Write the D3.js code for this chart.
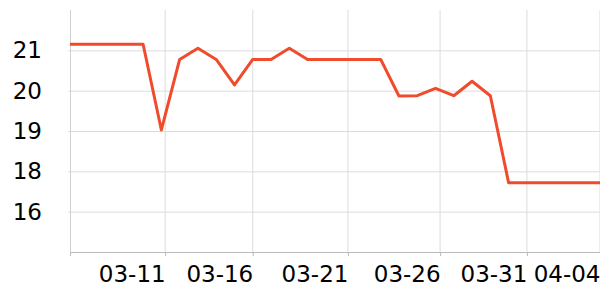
<!DOCTYPE html>
<html>
<head>
<meta charset="utf-8">
<script src="https://cdn.jsdelivr.net/npm/d3@7"></script>
<style>
	html, body { margin: 0; padding: 0; background: #fff; }
	svg { display: block; font-family: "DejaVu Sans", sans-serif; }
</style>
</head>
<body>
<svg id="chart" width="600" height="300"></svg>
<script>
// daily readings, 03-06 .. 04-04
var dates = [
	"2024-03-06", "2024-03-07", "2024-03-08", "2024-03-09", "2024-03-10",
	"2024-03-11", "2024-03-12", "2024-03-13", "2024-03-14", "2024-03-15",
	"2024-03-16", "2024-03-17", "2024-03-18", "2024-03-19", "2024-03-20",
	"2024-03-21", "2024-03-22", "2024-03-23", "2024-03-24", "2024-03-25",
	"2024-03-26", "2024-03-27", "2024-03-28", "2024-03-29", "2024-03-30",
	"2024-03-31", "2024-04-01", "2024-04-02", "2024-04-03", "2024-04-04"
];
var values = [
	21.38, 21.38, 21.38, 21.38, 21.38,
	18.83, 20.93, 21.26, 20.93, 20.17,
	20.93, 20.93, 21.26, 20.93, 20.93,
	20.93, 20.93, 20.93, 19.84, 19.85,
	20.07, 19.85, 20.28, 19.85, 17.26,
	17.26, 17.26, 17.26, 17.26, 17.26
];
// tick timestamps as the source chart placed them
var xTicks = ["2024-03-11T05", "2024-03-16T00", "2024-03-21T05", "2024-03-26T06", "2024-03-31T00", "2024-04-04T00"];
var yTicks = [16.4, 17.6, 18.8, 20.0, 21.2];
var yDomain = [15.2, 22.4];

(function(){
	var parse = d3.utcParse("%Y-%m-%d");
	var parseTick = d3.utcParse("%Y-%m-%dT%H");
	var data = dates.map(function(d, i){
		return { date: parse(d), value: values[i] };
	});
	var tickDates = xTicks.map(parseTick);

	var plotLeft = 70, plotRight = 600, plotTop = 10, plotBottom = 252;
	var svg = d3.select('#chart');

	var x = d3.scaleUtc()
		.domain(d3.extent(data, function(d){ return d.date; }))
		.range([plotLeft, plotRight]);
	var y = d3.scaleLinear()
		.domain(yDomain)
		.range([plotBottom, plotTop]);

	// horizontal grid + y labels
	var yAxis = svg.append('g')
		.attr('transform', 'translate(' + plotLeft + ',0)')
		.call(d3.axisLeft(y)
			.tickValues(yTicks)
			.tickFormat(d3.format('.0f'))
			.tickSize(2)
			.tickPadding(26));
	yAxis.select('.domain').remove();
	yAxis.selectAll('.tick line')
		.attr('x2', plotRight - plotLeft)
		.attr('x1', -2)
		.attr('stroke', '#dcdcdc');
	yAxis.selectAll('.tick text')
		.attr('font-size', 23)
		.attr('font-family', '"DejaVu Sans", sans-serif')
		.attr('fill', '#000');

	// vertical grid
	svg.append('g')
		.selectAll('line')
		.data(tickDates)
		.enter()
		.append('line')
		.attr('x1', function(d){ return x(d); })
		.attr('x2', function(d){ return x(d); })
		.attr('y1', plotTop)
		.attr('y2', plotBottom)
		.attr('stroke', '#dcdcdc');

	svg.append('line')
		.attr('x1', plotLeft + 0.5)
		.attr('x2', plotLeft + 0.5)
		.attr('y1', plotTop)
		.attr('y2', plotBottom + 4)
		.attr('stroke', '#d0d0d0');

	// x axis
	var xAxis = svg.append('g')
		.attr('transform', 'translate(0,' + plotBottom + ')')
		.call(d3.axisBottom(x)
			.tickValues(tickDates)
			.tickFormat(d3.utcFormat('%m-%d'))
			.tickSizeOuter(0)
			.tickSize(4)
			.tickPadding(10));
	xAxis.select('.domain').attr('stroke', '#bbb');
	xAxis.selectAll('.tick line').attr('stroke', '#bbb');
	xAxis.selectAll('.tick text')
		.attr('text-anchor', 'end')
		.attr('font-size', 23)
		.attr('font-family', '"DejaVu Sans", sans-serif')
		.attr('fill', '#000');

	// the series
	var line = d3.line()
		.x(function(d){ return x(d.date); })
		.y(function(d){ return y(d.value); });

	svg.append('path')
		.datum(data)
		.attr('d', line)
		.attr('fill', 'none')
		.attr('stroke', '#ef4b2c')
		.attr('stroke-width', 3)
		.attr('stroke-linejoin', 'round');
})();
</script>
</body>
</html>
